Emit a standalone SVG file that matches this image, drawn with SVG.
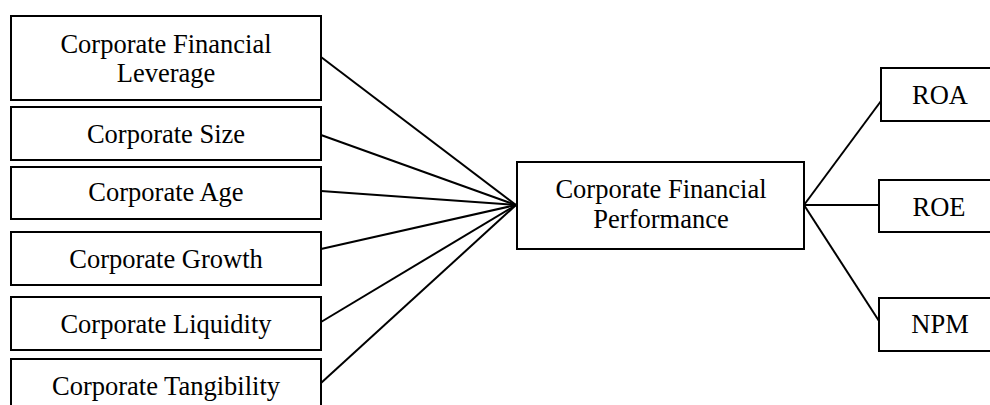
<svg xmlns="http://www.w3.org/2000/svg" width="990" height="405" viewBox="0 0 990 405">
<style>
.box{fill:#fff;stroke:#000;stroke-width:2}
.t{font-family:"Liberation Serif","Times New Roman",serif;font-size:26.5px;fill:#000;text-anchor:middle}
.c line{stroke:#000;stroke-width:2}
</style>
<rect width="990" height="405" fill="#fff"/>
<g class="c" id="connectors">
<line x1="321" y1="57" x2="516" y2="205"/>
<line x1="321" y1="135" x2="516" y2="205"/>
<line x1="321" y1="191" x2="516" y2="205"/>
<line x1="321" y1="249" x2="516" y2="205"/>
<line x1="321" y1="322" x2="516" y2="205"/>
<line x1="321" y1="383" x2="516" y2="205"/>
<line x1="804" y1="205" x2="881" y2="101"/>
<line x1="804" y1="205" x2="879" y2="205"/>
<line x1="804" y1="205" x2="879" y2="321"/>
</g>
<g id="leverage"><rect class="box" x="11" y="16" width="310" height="84"/><text class="t" x="166" y="53">Corporate Financial</text><text class="t" x="166" y="82">Leverage</text></g>
<g id="size"><rect class="box" x="11" y="107" width="310" height="53"/><text class="t" x="166" y="143">Corporate Size</text></g>
<g id="age"><rect class="box" x="11" y="167" width="310" height="52"/><text class="t" x="166" y="201">Corporate Age</text></g>
<g id="growth"><rect class="box" x="11" y="232" width="310" height="53"/><text class="t" x="166" y="268">Corporate Growth</text></g>
<g id="liquidity"><rect class="box" x="11" y="297" width="310" height="53"/><text class="t" x="166" y="333">Corporate Liquidity</text></g>
<g id="tangibility"><rect class="box" x="11" y="359" width="310" height="60"/><text class="t" x="166" y="395">Corporate Tangibility</text></g>
<g id="performance"><rect class="box" x="517" y="162" width="287" height="87"/><text class="t" x="661" y="198">Corporate Financial</text><text class="t" x="661" y="228">Performance</text></g>
<g id="roa"><rect class="box" x="881" y="68" width="130" height="53"/><text class="t" x="940" y="104">ROA</text></g>
<g id="roe"><rect class="box" x="879" y="180" width="130" height="52"/><text class="t" x="939" y="216">ROE</text></g>
<g id="npm"><rect class="box" x="879" y="298" width="130" height="53"/><text class="t" x="940" y="333">NPM</text></g>
</svg>
